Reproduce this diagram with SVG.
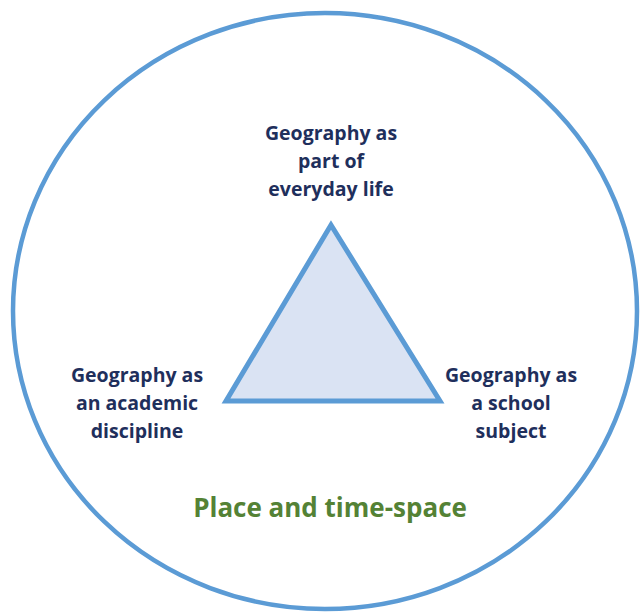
<svg xmlns="http://www.w3.org/2000/svg" width="642" height="613" viewBox="0 0 642 613">
<style>
.lbl{font-family:"Open Sans","Liberation Sans",sans-serif;font-weight:bold;font-size:19.5px;fill:#1f2f5c;text-anchor:middle}
.ttl{font-family:"Open Sans","Liberation Sans",sans-serif;font-weight:bold;font-size:26px;fill:#548235;text-anchor:middle}
</style>
<rect width="642" height="613" fill="#ffffff"/>
<g id="circle"><ellipse cx="325" cy="311" rx="312" ry="298" fill="none" stroke="#5b9bd5" stroke-width="4.5"/></g>
<g id="triangle"><polygon points="331,225 226,401 440,401" fill="#dae3f3" stroke="#5b9bd5" stroke-width="5" stroke-linejoin="miter"/></g>
<g id="node-everyday">
<text class="lbl" x="331" y="140">Geography as</text>
<text class="lbl" x="331" y="168">part of</text>
<text class="lbl" x="331" y="196">everyday life</text>
</g>
<g id="node-academic">
<text class="lbl" x="137" y="382">Geography as</text>
<text class="lbl" x="137" y="410">an academic</text>
<text class="lbl" x="137" y="438">discipline</text>
</g>
<g id="node-school">
<text class="lbl" x="511" y="382">Geography as</text>
<text class="lbl" x="511" y="410">a school</text>
<text class="lbl" x="511" y="438">subject</text>
</g>
<g id="title"><text class="ttl" x="330" y="517">Place and time-space</text></g>
<g id="connectors"></g>
</svg>
